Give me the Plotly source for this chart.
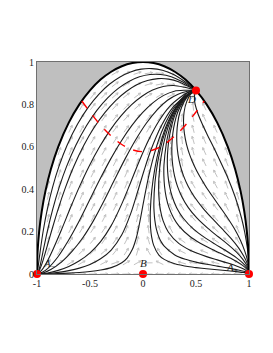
import numpy as np
import plotly.graph_objects as go

# ---------------- values ----------------
# physical boundary x^2+y^2=1 (thick trajectories A- -> D and A+ -> D)
bnd_x = [-1, -0.995, -0.98, -0.955, -0.92, -0.87, -0.8, -0.7, -0.6, -0.5, -0.4, -0.3, -0.2, -0.1, 0,
         0.1, 0.2, 0.3, 0.4, 0.5, 0.6, 0.7, 0.8, 0.87, 0.92, 0.955, 0.98, 0.995, 1]
bnd_y = [0, 0.1, 0.199, 0.297, 0.392, 0.493, 0.6, 0.714, 0.8, 0.866, 0.917, 0.954, 0.98, 0.995, 1,
         0.995, 0.98, 0.954, 0.917, 0.866, 0.8, 0.714, 0.6, 0.493, 0.392, 0.297, 0.199, 0.1, 0]

# acceleration boundary (red dashed)
accel_x = [-0.577, -0.5, -0.4, -0.3, -0.2, -0.1, 0, 0.1, 0.2, 0.3, 0.4, 0.5, 0.577]
accel_y = [0.816, 0.764, 0.702, 0.651, 0.611, 0.586, 0.577, 0.586, 0.611, 0.651, 0.702, 0.764, 0.816]

# trajectories leaving A- (-1,0)
c1_x = [-1, -0.993, -0.985, -0.972, -0.94, -0.902, -0.854, -0.793, -0.716, -0.617, -0.517, -0.417, -0.317,
        -0.217, -0.117, -0.017, 0.083, 0.183, 0.283, 0.383, 0.45, 0.5]
c1_y = [0, 0.02, 0.05, 0.1, 0.2075, 0.3075, 0.4075, 0.5075, 0.6075, 0.7075, 0.786, 0.8475, 0.8948,
        0.9297, 0.9533, 0.9663, 0.9689, 0.961, 0.9422, 0.9116, 0.8865, 0.866]
c2_x = [-1, -0.9815, -0.966, -0.9457, -0.9, -0.8506, -0.7918, -0.7207, -0.6334, -0.5334, -0.4334, -0.3334,
        -0.2334, -0.1334, -0.0334, 0.0666, 0.1666, 0.2666, 0.3666, 0.44, 0.5]
c2_y = [0, 0.02, 0.05, 0.1, 0.2075, 0.3075, 0.4075, 0.5075, 0.6075, 0.6994, 0.7726, 0.8306, 0.8754,
        0.9083, 0.9301, 0.9411, 0.9413, 0.9305, 0.908, 0.885, 0.866]
c3_x = [-1, -0.975, -0.952, -0.922, -0.86, -0.80, -0.732, -0.653, -0.558, -0.458, -0.358, -0.258, -0.158,
        -0.058, 0.042, 0.142, 0.242, 0.342, 0.42, 0.5]
c3_y = [0, 0.02, 0.05, 0.1, 0.2075, 0.3075, 0.4075, 0.5075, 0.6075, 0.6932, 0.7627, 0.8182, 0.8611,
        0.8924, 0.9124, 0.9214, 0.9192, 0.9052, 0.8868, 0.866]
c4_x = [-1, -0.953, -0.9135, -0.8635, -0.77, -0.6885, -0.6034, -0.5095, -0.4095, -0.3095, -0.2095, -0.1095,
        -0.0095, 0.0905, 0.1905, 0.2905, 0.3905, 0.45, 0.5]
c4_y = [0, 0.02, 0.05, 0.1, 0.2075, 0.3075, 0.4075, 0.5075, 0.6001, 0.6789, 0.7445, 0.7975,
        0.8384, 0.8674, 0.8844, 0.8891, 0.8808, 0.8734, 0.866]
c5_x = [-1, -0.95, -0.9, -0.8, -0.7094, -0.6094, -0.5094, -0.41, -0.3044, -0.2044, -0.1044, -0.0044, 0.0956,
        0.1956, 0.2956, 0.3956, 0.5]
c5_y = [0, 0.008, 0.0254, 0.0827, 0.1532, 0.243, 0.343, 0.443, 0.543, 0.6277, 0.7008, 0.7613, 0.8087,
        0.8426, 0.8624, 0.8668, 0.866]
c6_x = [-1, -0.93, -0.87, -0.77, -0.6696, -0.5696, -0.4696, -0.3696, -0.27, -0.1688, -0.0688, 0.0312, 0.1312,
        0.2312, 0.3312, 0.42, 0.5]
c6_y = [0, 0.0074, 0.0209, 0.056, 0.1066, 0.1698, 0.2495, 0.343, 0.443, 0.543, 0.6332, 0.711, 0.7735,
        0.8197, 0.8484, 0.862, 0.866]
c7_x = [-1, -0.9, -0.8, -0.7, -0.6, -0.5, -0.4, -0.3, -0.2, -0.1175, -0.0367, 0.0518, 0.1518, 0.2518,
        0.3518, 0.42, 0.5]
c7_y = [0, 0.0051, 0.0171, 0.0355, 0.0622, 0.1, 0.1528, 0.2282, 0.3308, 0.4308, 0.5308, 0.6308, 0.7228,
        0.7908, 0.8335, 0.856, 0.866]
c8_x = [-1, -0.9, -0.8, -0.7, -0.6, -0.5, -0.4, -0.3, -0.2, -0.1162, -0.0527, 0.0079, 0.0746, 0.1746,
        0.2746, 0.3746, 0.44, 0.5]
c8_y = [0, 0.0023, 0.0076, 0.0158, 0.0276, 0.045, 0.0717, 0.113, 0.1847, 0.2847, 0.3847, 0.4847, 0.5847,
        0.7004, 0.7815, 0.8287, 0.853, 0.866]
c9_x = [-1, -0.9, -0.8, -0.7, -0.6, -0.5, -0.4, -0.3, -0.2, -0.15, -0.1, -0.0655, -0.0418, -0.0221, 0.0152,
        0.0564, 0.1071, 0.1724, 0.2524, 0.3324, 0.4124, 0.46, 0.5]
c9_y = [0, 0.0006, 0.002, 0.0041, 0.0071, 0.0116, 0.0185, 0.03, 0.053, 0.0752, 0.1163, 0.1663, 0.2163,
        0.2663, 0.3663, 0.4663, 0.5663, 0.6663, 0.7516, 0.8089, 0.8519, 0.862, 0.866]

# trajectories leaving A+ (1,0)
r1_x = [1, 0.98, 0.95, 0.9, 0.8, 0.7, 0.6, 0.5, 0.44, 0.3, 0.2, 0.15, 0.1, 0.0809, 0.0718, 0.0685, 0.069,
        0.0832, 0.1113, 0.1541, 0.2174, 0.2974, 0.3774, 0.44, 0.5]
r1_y = [0, 0.0041, 0.0069, 0.0102, 0.0155, 0.02, 0.0246, 0.0301, 0.034, 0.0483, 0.069, 0.0894, 0.136,
        0.176, 0.216, 0.256, 0.296, 0.396, 0.496, 0.596, 0.696, 0.7758, 0.8243, 0.851, 0.866]
r2_x = [1, 0.995, 0.98, 0.95, 0.9, 0.8, 0.7, 0.6, 0.5, 0.4, 0.3, 0.2, 0.17, 0.15, 0.1252, 0.1115, 0.1046,
        0.1024, 0.1132, 0.1407, 0.1858, 0.2458, 0.3058, 0.37, 0.43, 0.5]
r2_y = [0, 0.0041, 0.0082, 0.0129, 0.0191, 0.0289, 0.0373, 0.046, 0.0561, 0.0694, 0.09, 0.1312, 0.1532,
        0.1738, 0.2138, 0.2538, 0.2938, 0.3338, 0.4338, 0.5338, 0.6338, 0.721, 0.7818, 0.823, 0.85, 0.866]
r3_x = [1, 0.995, 0.98, 0.95, 0.9, 0.8, 0.7, 0.6, 0.5, 0.44, 0.34, 0.24, 0.19, 0.165, 0.1521, 0.1476,
        0.1494, 0.17, 0.2114, 0.2614, 0.3114, 0.3714, 0.43, 0.5]
r3_y = [0, 0.0068, 0.0136, 0.0231, 0.0342, 0.0515, 0.0665, 0.0819, 0.0999, 0.113, 0.143, 0.197, 0.2503,
        0.3003, 0.3503, 0.4003, 0.4503, 0.5503, 0.6503, 0.7273, 0.7812, 0.8232, 0.85, 0.866]
r4_x = [1, 0.99, 0.96, 0.92, 0.84, 0.74, 0.64, 0.54, 0.44, 0.34, 0.29, 0.2456, 0.2186, 0.2034, 0.197,
        0.1977, 0.2194, 0.2384, 0.265, 0.302, 0.362, 0.42, 0.5]
r4_y = [0, 0.0162, 0.0323, 0.0476, 0.0711, 0.0954, 0.119, 0.1452, 0.1779, 0.2262, 0.263, 0.313, 0.363,
        0.413, 0.463, 0.513, 0.613, 0.663, 0.713, 0.763, 0.8128, 0.845, 0.866]
r5_x = [1, 0.995, 0.98, 0.94, 0.88, 0.78, 0.68, 0.58, 0.48, 0.38, 0.3175, 0.2766, 0.2507, 0.2359, 0.2298,
        0.2311, 0.2393, 0.2543, 0.2775, 0.3114, 0.3714, 0.43, 0.5]
r5_y = [0, 0.015, 0.0301, 0.0521, 0.0773, 0.1107, 0.1408, 0.1726, 0.2104, 0.263, 0.313, 0.363, 0.413,
        0.463, 0.513, 0.563, 0.613, 0.663, 0.713, 0.763, 0.814, 0.846, 0.866]
r6_x = [1, 0.995, 0.98, 0.94, 0.88, 0.8, 0.71, 0.61, 0.51, 0.4275, 0.3675, 0.3255, 0.2974, 0.2804, 0.2726,
        0.2731, 0.2815, 0.2987, 0.327, 0.377, 0.43, 0.5]
r6_y = [0, 0.0203, 0.0406, 0.0703, 0.104, 0.1396, 0.1757, 0.2162, 0.263, 0.313, 0.363, 0.413, 0.463,
        0.513, 0.563, 0.613, 0.663, 0.713, 0.763, 0.812, 0.845, 0.866]
r7_x = [1, 0.995, 0.98, 0.95, 0.9, 0.83, 0.75, 0.65, 0.5611, 0.4861, 0.4269, 0.3825, 0.3509, 0.3305, 0.32,
        0.3189, 0.3276, 0.348, 0.3878, 0.44, 0.5]
r7_y = [0, 0.0267, 0.0535, 0.0845, 0.1247, 0.1682, 0.2112, 0.263, 0.313, 0.363, 0.413, 0.463, 0.513,
        0.563, 0.613, 0.663, 0.713, 0.763, 0.813, 0.848, 0.866]
r8_x = [1, 0.996, 0.985, 0.96, 0.92, 0.86, 0.8, 0.7308, 0.6602, 0.5927, 0.5322, 0.4809, 0.44, 0.4098,
        0.3905, 0.3824, 0.3873, 0.412, 0.45, 0.5]
r8_y = [0, 0.034, 0.066, 0.1079, 0.1582, 0.2155, 0.263, 0.313, 0.363, 0.413, 0.463, 0.513, 0.563, 0.613,
        0.663, 0.713, 0.763, 0.813, 0.848, 0.866]
r9_x = [1, 0.996, 0.985, 0.96, 0.93, 0.8697, 0.7917, 0.6992, 0.6009, 0.554, 0.5136, 0.4874, 0.486, 0.492, 0.5]
r9_y = [0, 0.062, 0.12, 0.1958, 0.263, 0.363, 0.463, 0.563, 0.663, 0.713, 0.763, 0.813, 0.84, 0.858, 0.866]

# invariant x-axis segments (A- -> B, A+ -> B)
axl_x, axl_y = [-1, 0], [0, 0]
axr_x, axr_y = [1, 0], [0, 0]

# critical points
pt_x = [-1, 0, 1, 0.5]
pt_y = [0, 0, 0, 0.866]
lab_text = ["<i>A</i><sub>−</sub>", "<i>B</i>", "<i>A</i><sub>+</sub>", "<i>D</i>"]
lab_x = [-0.885, 0.005, 0.835, 0.462]
lab_y = [0.048, 0.05, 0.028, 0.826]

x_ticks = [-1, -0.5, 0, 0.5, 1]
x_tick_text = ["-1", "-0.5", "0", "0.5", "1"]
y_ticks = [0, 0.2, 0.4, 0.6, 0.8, 1]
y_tick_text = ["0", "0.2", "0.4", "0.6", "0.8", "1"]

# ---------------- figure ----------------
W, H = 273, 353
BODY = 8                       # default page margin of the html body
ML, MT = 37 - BODY, 62 - BODY  # plot box in the page: x 37..249, y 62..274
PW = PH = 212
MR = W - ML - PW
MB = H - MT - PH
PX = PW / 2.0   # px per x unit
PY = PH / 1.0   # px per y unit
SERIF = "Liberation Serif, Times New Roman, serif"

left_trajs = [(c1_x, c1_y), (c2_x, c2_y), (c3_x, c3_y), (c4_x, c4_y), (c5_x, c5_y), (c6_x, c6_y),
              (c7_x, c7_y), (c8_x, c8_y), (c9_x, c9_y)]
right_trajs = [(r1_x, r1_y), (r2_x, r2_y), (r3_x, r3_y), (r4_x, r4_y), (r5_x, r5_y), (r6_x, r6_y),
               (r7_x, r7_y), (r8_x, r8_y), (r9_x, r9_y)]
iD = bnd_x.index(0.5)
bnd_left = (bnd_x[:iD + 1], bnd_y[:iD + 1])
bnd_right = (bnd_x[iD:][::-1], bnd_y[iD:][::-1])
flows = left_trajs + right_trajs + [bnd_left, bnd_right, (axl_x, axl_y), (axr_x, axr_y)]

segs = []
for fx, fy in flows:
    p = np.column_stack([np.asarray(fx) * PX, np.asarray(fy) * PY])
    d = p[1:] - p[:-1]
    L2 = (d ** 2).sum(1)
    keep = L2 > 1e-9
    segs.append((p[:-1][keep], d[keep], L2[keep]))


def flow_dir(qx, qy):
    res = []
    for p0, d, L2 in segs:
        t = np.clip(((qx - p0[:, 0]) * d[:, 0] + (qy - p0[:, 1]) * d[:, 1]) / L2, 0, 1)
        cx = p0[:, 0] + t * d[:, 0]
        cy = p0[:, 1] + t * d[:, 1]
        dist = np.hypot(qx - cx, qy - cy)
        k = int(dist.argmin())
        res.append((dist[k], d[k] / np.sqrt(L2[k])))
    res.sort(key=lambda r: r[0])
    (d1, u1), (d2, u2) = res[0], res[1]
    v = u1 / (d1 + 1.0) + u2 / (d2 + 1.0)
    n = np.hypot(v[0], v[1])
    return v / n if n > 0 else u1


# direction-field arrows on the plot's arrow lattice
NA = 20
arr_x, arr_y = [], []
half, head, ang = 4.0, 2.6, np.deg2rad(28)
for i in range(NA):
    for j in range(NA):
        gx = -1 + 2.0 * i / (NA - 1)
        gy = 1.0 * j / (NA - 1)
        if gy > np.interp(gx, bnd_x, bnd_y) - 0.015:
            continue
        u = flow_dir(gx * PX, gy * PY)
        tx, ty = gx - u[0] * half / PX, gy - u[1] * half / PY
        hx, hy = gx + u[0] * half / PX, gy + u[1] * half / PY
        arr_x += [tx, hx, None]
        arr_y += [ty, hy, None]
        for s in (1, -1):
            ca, sa = np.cos(s * ang), np.sin(s * ang)
            bx = -(u[0] * ca - u[1] * sa)
            by = -(u[0] * sa + u[1] * ca)
            arr_x += [hx, hx + bx * head / PX, None]
            arr_y += [hy, hy + by * head / PY, None]

fig = go.Figure()

# grey non-physical region
fig.add_trace(go.Scatter(x=[-1] + bnd_x + [1, -1], y=[1] + bnd_y + [1, 1], mode="lines",
                         fill="toself", fillcolor="#bfbfbf", line=dict(width=0), hoverinfo="skip"))

fig.add_trace(go.Scatter(x=arr_x, y=arr_y, mode="lines", line=dict(color="#c2c2c2", width=1),
                         hoverinfo="skip"))

for fx, fy in left_trajs + right_trajs:
    fig.add_trace(go.Scatter(x=fx, y=fy, mode="lines", line=dict(color="#1c1c1c", width=1.1,
                                                                  shape="spline", smoothing=0.9),
                             hoverinfo="skip"))

fig.add_trace(go.Scatter(x=bnd_x, y=bnd_y, mode="lines",
                         line=dict(color="black", width=2, shape="spline", smoothing=1.0), hoverinfo="skip"))

fig.add_trace(go.Scatter(x=accel_x, y=accel_y, mode="lines",
                         line=dict(color="#ff0000", width=1.4, dash="dash", shape="spline"), hoverinfo="skip"))

fig.add_trace(go.Scatter(x=pt_x, y=pt_y, mode="markers", marker=dict(color="#ff0000", size=8),
                         cliponaxis=False, hoverinfo="skip"))

for t, lx, ly in zip(lab_text, lab_x, lab_y):
    fig.add_annotation(x=lx, y=ly, text=t, showarrow=False, font=dict(family=SERIF, size=11, color="#222"))

fig.add_annotation(x=0, y=-0.085, yref="y", text="<i>x</i>", showarrow=False,
                   font=dict(family=SERIF, size=11, color="#222"))
fig.add_annotation(x=-1.2, y=0.5, text="<i>y</i>", showarrow=False,
                   font=dict(family=SERIF, size=11, color="#222"))

axis_common = dict(showgrid=False, zeroline=False, showline=True, mirror=True, linecolor="#707070",
                   linewidth=1, ticks="", tickfont=dict(family=SERIF, size=10, color="#222"))
fig.update_xaxes(range=[-1, 1], tickvals=x_ticks, ticktext=x_tick_text, **axis_common)
fig.update_yaxes(range=[0, 1], tickvals=y_ticks, ticktext=y_tick_text, **axis_common)

fig.update_layout(width=W, height=H, autosize=False, showlegend=False,
                  margin=dict(l=ML, r=MR, t=MT, b=MB),
                  paper_bgcolor="white", plot_bgcolor="white")

fig.write_html("out.html")
